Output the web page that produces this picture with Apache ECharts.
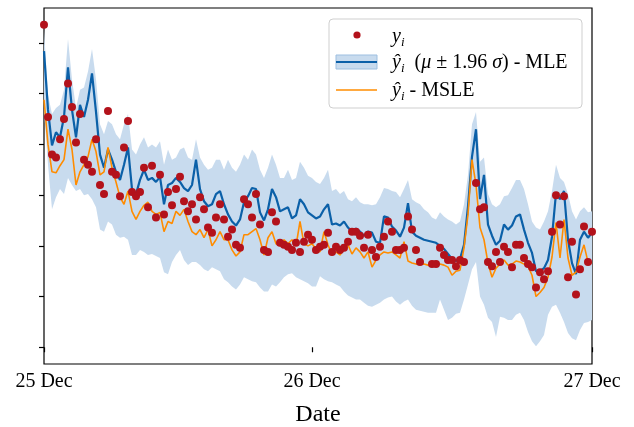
<!DOCTYPE html>
<html>
<head>
<meta charset="utf-8">
<script src="https://cdn.jsdelivr.net/npm/echarts@6/dist/echarts.min.js"></script>
<style>
  html, body { margin: 0; padding: 0; background: #fff; }
  #chart { width: 634px; height: 427px; }
</style>
</head>
<body>
<div id="chart"></div>
<script>
// Observed values y_i (null = no observation)
const observed = [318,227,190,187,205,225,260,237,202,230,185,180,173,205,160,151,233,173,170,149,
  197,223,153,149,153,177,138,179,128,170,131,153,140,156,168,144,134,141,126,148,
  136,118,113,128,141,126,109,116,101,98,146,141,128,151,121,96,94,133,124,103,
  101,99,96,103,94,104,111,106,96,99,101,113,94,99,96,98,104,114,114,110,
  98,111,96,89,99,109,124,114,96,96,98,129,116,96,84,null,null,82,82,98,
  91,86,86,80,86,84,null,null,162,136,138,84,80,94,84,99,94,79,101,101,
  88,82,79,59,74,67,75,114,150,121,149,69,104,52,77,119,84,114];

// MLE predicted mean
const mleMean = [292,234,199,212,207,227,276,234,207,239,227,244,270,232,190,177,195,185,173,165,
  180,197,156,151,165,175,165,167,163,168,141,160,162,167,163,157,154,160,185,156,
  144,139,141,151,154,141,131,124,120,126,143,149,157,156,133,125,136,156,148,134,
  136,138,127,130,146,141,133,130,127,129,136,141,121,122,120,124,118,114,117,114,
  110,114,113,104,103,129,128,119,115,109,118,142,114,110,108,106,105,104,103,100,
  97,92,87,85,87,101,139,188,215,146,170,121,110,101,105,121,116,120,129,131,
  116,103,93,75,75,78,86,109,152,146,154,106,83,72,106,114,108,113];

// MLE 95% interval bounds (mu +/- 1.96 sigma)
const mleUpper = [313,249,230,236,239,254,304,264,236,254,256,272,294,264,220,210,223,220,210,205,
  220,230,195,190,200,207,197,200,197,203,180,195,185,187,195,197,187,185,205,187,
  180,175,177,185,185,175,185,177,173,180,190,185,195,190,175,167,177,190,180,167,
  167,175,165,167,183,177,169,167,163,161,167,175,154,156,151,154,146,144,148,143,
  141,141,140,141,148,157,156,154,153,148,156,165,146,143,141,136,133,128,126,133,
  129,126,124,121,124,141,170,220,232,183,187,151,141,138,141,149,150,157,165,165,
  156,141,124,118,116,124,134,154,180,167,163,151,134,126,134,138,133,134];
const mleLower = [234,180,136,148,156,151,167,160,154,156,150,151,146,138,116,114,124,121,111,108,
  109,106,91,91,96,94,91,92,90,88,74,72,84,91,96,86,81,84,84,81,
  77,75,79,77,75,67,64,60,57,62,69,67,65,64,59,55,55,62,60,64,
  69,72,73,69,67,65,63,60,60,70,67,65,64,62,60,55,51,49,47,47,
  44,41,40,42,44,47,49,50,45,42,45,47,41,37,36,35,34,34,34,47,
  37,27,29,33,34,47,62,77,84,50,42,29,25,10,30,29,27,27,32,34,
  27,15,6,1,6,12,32,40,42,34,25,14,9,7,17,24,25,27];

// MSLE predicted values
const msle = [244,200,173,172,179,185,215,195,160,173,180,188,205,193,170,173,197,177,163,148,
  141,154,134,126,134,140,143,134,131,133,114,124,122,134,130,136,124,114,111,116,
  108,116,100,106,114,106,106,96,90,94,111,111,114,117,106,91,108,114,102,100,
  106,102,106,100,124,102,100,102,97,94,114,101,91,94,91,97,101,92,98,94,
  88,94,79,86,91,94,93,94,91,88,104,85,83,82,82,82,81,80,80,82,
  81,79,71,75,76,98,131,185,160,118,106,83,69,78,82,86,81,82,85,84,
  82,80,71,50,54,59,69,89,123,88,126,88,71,74,89,101,84,83];

// Date ticks (sample index -> label)
const dateTickIndex = [0, 67, 137];
const dateTickLabels = ['25 Dec', '26 Dec', '27 Dec'];
const yTicks = [0, 50, 100, 150, 200, 250, 300];

const samples = observed.map((_, i) => String(i));
const bandWidth = mleUpper.map((u, i) => +(u - mleLower[i]).toFixed(2));

const SERIF = '"Liberation Serif", "DejaVu Serif", serif';
const RED = '#b3121b', BLUE = '#0b60a8', ORANGE = '#ff8c00', BAND = '#c8dbee';

const chart = echarts.init(document.getElementById('chart'), null, { renderer: 'canvas' });

const isDateTick = (i) => dateTickIndex.indexOf(i) >= 0;

const legendRich = {
  v: { fontFamily: SERIF, fontSize: 20, fontStyle: 'italic', lineHeight: 24, verticalAlign: 'middle', color: '#000' },
  n: { fontFamily: SERIF, fontSize: 20, lineHeight: 24, verticalAlign: 'middle', color: '#000' },
  s: { fontFamily: SERIF, fontSize: 13, fontStyle: 'italic', lineHeight: 15, verticalAlign: 'bottom', color: '#000' }
};

chart.setOption({
  animation: false,
  backgroundColor: '#fff',
  grid: {
    left: 44, right: 42, top: 8, bottom: 63,
    outerBoundsMode: 'none',
    containLabel: false,
    show: true, borderColor: '#000', borderWidth: 1.2, backgroundColor: 'transparent'
  },
  xAxis: {
    type: 'category',
    data: samples,
    boundaryGap: false,
    name: 'Date',
    nameLocation: 'middle',
    nameGap: 39,
    nameTextStyle: { fontFamily: SERIF, fontSize: 24, color: '#000' },
    axisLine: { show: false },
    axisTick: { show: true, interval: (i) => isDateTick(i), length: 5, lineStyle: { color: '#000', width: 1.2 } },
    axisLabel: {
      interval: (i) => isDateTick(i),
      formatter: (v, i) => dateTickLabels[dateTickIndex.indexOf(i)] || '',
      fontFamily: SERIF, fontSize: 20, color: '#000', margin: 8
    },
    splitLine: { show: false }
  },
  yAxis: {
    type: 'value',
    min: -16.5,
    max: 334.5,
    axisLine: { show: false },
    axisTick: { show: true, customValues: yTicks, length: 5, lineStyle: { color: '#000', width: 1.2 } },
    axisLabel: { show: false },
    splitLine: { show: false }
  },
  series: [
    {
      name: 'lower', type: 'line', data: mleLower, stack: 'band',
      symbol: 'none', lineStyle: { opacity: 0 }, silent: true, z: 1
    },
    {
      name: 'band', type: 'line', data: bandWidth, stack: 'band',
      symbol: 'none', lineStyle: { opacity: 0 }, areaStyle: { color: BAND, opacity: 1 }, silent: true, z: 1
    },
    {
      name: 'MLE', type: 'line', data: mleMean, symbol: 'none',
      lineStyle: { color: BLUE, width: 2.2 }, z: 2
    },
    {
      name: 'MSLE', type: 'line', data: msle, symbol: 'none',
      lineStyle: { color: ORANGE, width: 1.6 }, z: 3
    },
    {
      name: 'y', type: 'scatter', data: observed, symbol: 'circle', symbolSize: 8,
      itemStyle: { color: RED, opacity: 1 }, z: 4
    }
  ],
  graphic: [
    {
      type: 'group', z: 100,
      children: [
        { type: 'rect', shape: { x: 329, y: 19, width: 253, height: 89, r: 4 },
          style: { fill: 'rgba(255,255,255,0.85)', stroke: '#cfcfcf', lineWidth: 1 } },
        { type: 'circle', shape: { cx: 357, cy: 35, r: 3.6 }, style: { fill: RED } },
        { type: 'text', x: 392, y: 37,
          style: { text: '{v|y}{s|i}', verticalAlign: 'middle', rich: legendRich } },
        { type: 'rect', shape: { x: 336, y: 55, width: 41, height: 14 },
          style: { fill: BAND, stroke: '#9dbfe0', lineWidth: 1 } },
        { type: 'line', shape: { x1: 336, y1: 62, x2: 377, y2: 62 }, style: { stroke: BLUE, lineWidth: 2.2 } },
        { type: 'text', x: 392, y: 63,
          style: { text: '{v|ŷ}{s|i}{n|  (}{v|μ}{n| ± 1.96 }{v|σ}{n|) - MLE}', verticalAlign: 'middle', rich: legendRich } },
        { type: 'line', shape: { x1: 336, y1: 90, x2: 377, y2: 90 }, style: { stroke: ORANGE, lineWidth: 1.6 } },
        { type: 'text', x: 392, y: 91,
          style: { text: '{v|ŷ}{s|i}{n| - MSLE}', verticalAlign: 'middle', rich: legendRich } }
      ]
    }
  ]
});
</script>
</body>
</html>
